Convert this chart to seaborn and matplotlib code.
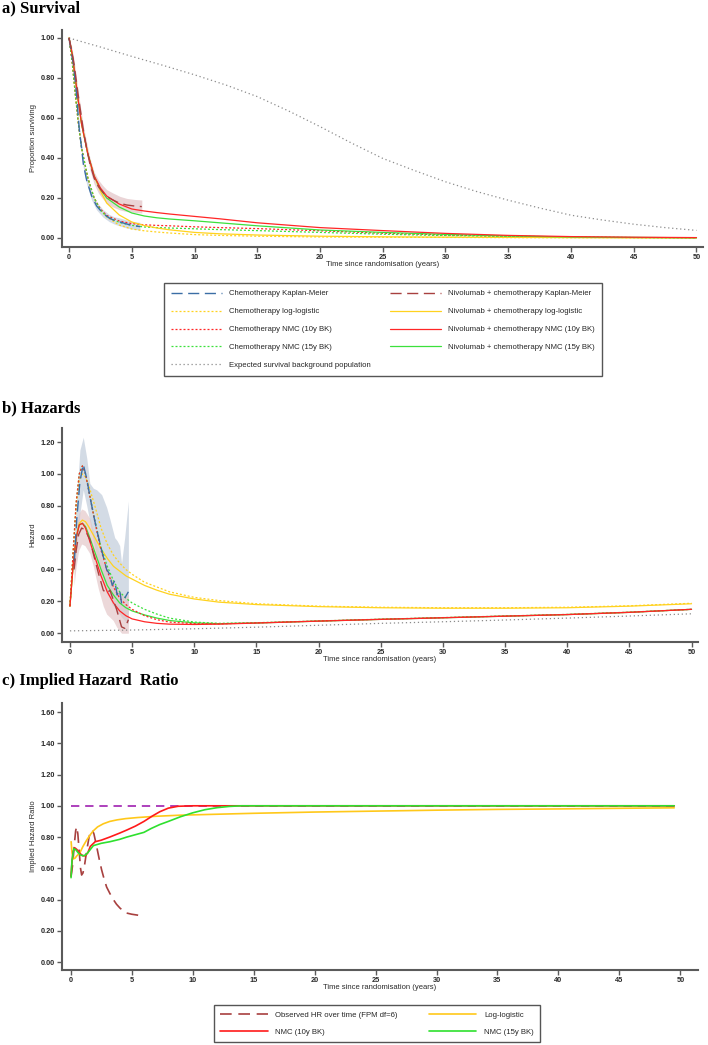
import matplotlib
matplotlib.use("Agg")
import matplotlib.pyplot as plt
import numpy as np
import pandas as pd
import seaborn as sns

# ---------------- DATA ----------------
# a) Survival
km_chemo_t = [0, 0.15, 0.35, 0.5, 0.61, 0.72, 0.82, 1.0, 1.14, 1.4, 1.8, 2.2, 2.7, 3.2, 3.6, 4.06, 4.6, 5.1, 5.66]
km_chemo_s = [1.0, 0.94, 0.87, 0.78, 0.71, 0.62, 0.54, 0.45, 0.37, 0.29, 0.21, 0.16, 0.124, 0.10, 0.088, 0.08, 0.07, 0.062, 0.057]
km_chemo_lo = [1.0, 0.92, 0.85, 0.76, 0.69, 0.60, 0.52, 0.43, 0.35, 0.27, 0.19, 0.14, 0.105, 0.082, 0.07, 0.06, 0.05, 0.044, 0.04]
km_chemo_hi = [1.0, 0.96, 0.89, 0.80, 0.73, 0.64, 0.56, 0.47, 0.39, 0.31, 0.23, 0.18, 0.143, 0.118, 0.106, 0.10, 0.09, 0.082, 0.078]
km_nivo_t = [0, 0.2, 0.4, 0.55, 0.74, 0.95, 1.14, 1.4, 1.67, 2.0, 2.34, 2.7, 3.0, 3.5, 4.06, 4.6, 5.2, 5.8]
km_nivo_s = [1.0, 0.94, 0.87, 0.80, 0.71, 0.62, 0.54, 0.45, 0.37, 0.30, 0.257, 0.228, 0.207, 0.19, 0.173, 0.165, 0.16, 0.157]
km_nivo_lo = [1.0, 0.92, 0.85, 0.78, 0.69, 0.60, 0.52, 0.42, 0.34, 0.27, 0.225, 0.195, 0.172, 0.155, 0.14, 0.132, 0.128, 0.125]
km_nivo_hi = [1.0, 0.96, 0.89, 0.82, 0.73, 0.64, 0.56, 0.48, 0.40, 0.33, 0.29, 0.262, 0.242, 0.225, 0.208, 0.198, 0.193, 0.19]

surv_t = [0, 0.25, 0.5, 0.75, 1, 1.5, 2, 2.5, 3, 4, 5, 6, 7, 8, 10, 12, 15, 20, 25, 30, 35, 40, 45, 50]
chemo_ll_s = [1.0, 0.88, 0.72, 0.57, 0.45, 0.30, 0.20, 0.14, 0.105, 0.065, 0.045, 0.036, 0.03, 0.025, 0.017, 0.013, 0.009, 0.005, 0.004, 0.003, 0.002, 0.0015, 0.001, 0.001]
chemo_nmc10_s = [1.0, 0.88, 0.72, 0.57, 0.45, 0.30, 0.20, 0.145, 0.113, 0.085, 0.072, 0.066, 0.063, 0.061, 0.056, 0.052, 0.047, 0.036, 0.024, 0.015, 0.009, 0.005, 0.002, 0.001]
chemo_nmc15_s = [1.0, 0.88, 0.72, 0.57, 0.45, 0.30, 0.20, 0.14, 0.108, 0.078, 0.063, 0.055, 0.052, 0.05, 0.046, 0.042, 0.037, 0.028, 0.019, 0.012, 0.007, 0.003, 0.002, 0.001]
nivo_ll_s = [1.0, 0.92, 0.80, 0.68, 0.57, 0.42, 0.31, 0.235, 0.175, 0.115, 0.08, 0.062, 0.05, 0.041, 0.028, 0.021, 0.015, 0.009, 0.006, 0.004, 0.003, 0.002, 0.0015, 0.001]
nivo_nmc10_s = [1.0, 0.92, 0.80, 0.68, 0.57, 0.42, 0.31, 0.25, 0.21, 0.17, 0.145, 0.135, 0.127, 0.12, 0.108, 0.096, 0.076, 0.052, 0.037, 0.023, 0.013, 0.007, 0.004, 0.002]
nivo_nmc15_s = [1.0, 0.92, 0.80, 0.68, 0.57, 0.42, 0.31, 0.245, 0.2, 0.155, 0.125, 0.11, 0.101, 0.095, 0.086, 0.076, 0.061, 0.04, 0.028, 0.018, 0.01, 0.005, 0.003, 0.001]

bg_t = [0, 2.5, 5, 7.5, 10, 12.5, 15, 17.5, 20, 22.5, 25, 27.5, 30, 32.5, 35, 37.5, 40, 42.5, 45, 47.5, 50]
bg_s = [1.0, 0.955, 0.908, 0.863, 0.816, 0.765, 0.707, 0.635, 0.557, 0.475, 0.398, 0.338, 0.281, 0.232, 0.189, 0.15, 0.114, 0.09, 0.069, 0.052, 0.038]

# b) Hazards
hkm_chemo_t = [0.35, 0.55, 0.8, 1.07, 1.35, 1.6, 1.88, 2.15, 2.55, 2.95, 3.2, 3.4, 3.6, 3.8, 4.0, 4.15, 4.4, 4.7]
hkm_chemo_h = [0.45, 0.72, 0.95, 1.06, 0.97, 0.86, 0.75, 0.65, 0.52, 0.40, 0.37, 0.30, 0.33, 0.24, 0.27, 0.19, 0.22, 0.26]
hkm_chemo_lo = [0.35, 0.55, 0.75, 0.90, 0.80, 0.70, 0.58, 0.48, 0.35, 0.25, 0.22, 0.18, 0.16, 0.13, 0.12, 0.10, 0.08, 0.06]
hkm_chemo_hi = [0.59, 0.86, 1.15, 1.23, 1.10, 0.94, 0.91, 0.90, 0.87, 0.79, 0.72, 0.66, 0.60, 0.58, 0.55, 0.44, 0.60, 0.83]
hkm_nivo_t = [0.33, 0.5, 0.7, 0.94, 1.2, 1.6, 1.88, 2.28, 2.68, 2.95, 3.22, 3.48, 3.75, 4.15, 4.42, 4.7]
hkm_nivo_h = [0.40, 0.52, 0.62, 0.66, 0.65, 0.59, 0.50, 0.38, 0.27, 0.25, 0.27, 0.21, 0.15, 0.04, 0.03, 0.085]
hkm_nivo_lo = [0.30, 0.42, 0.52, 0.56, 0.55, 0.50, 0.42, 0.28, 0.17, 0.12, 0.10, 0.08, 0.04, 0.0, 0.0, 0.0]
hkm_nivo_hi = [0.52, 0.66, 0.75, 0.78, 0.77, 0.72, 0.64, 0.52, 0.44, 0.40, 0.37, 0.33, 0.29, 0.25, 0.22, 0.25]

haz_t = [0, 0.1, 0.25, 0.5, 0.75, 1.0, 1.25, 1.5, 2, 2.5, 3, 3.5, 4, 4.5, 5, 6, 7, 8, 10, 12, 15, 20, 25, 30, 35, 40, 45, 50]
chemo_ll_h = [0.17, 0.30, 0.50, 0.80, 0.96, 1.0, 0.98, 0.93, 0.80, 0.66, 0.56, 0.49, 0.44, 0.40, 0.37, 0.32, 0.29, 0.26, 0.225, 0.205, 0.185, 0.17, 0.163, 0.16, 0.16, 0.163, 0.172, 0.188]
chemo_nmc10_h = [0.17, 0.30, 0.50, 0.82, 1.0, 1.05, 1.0, 0.90, 0.70, 0.52, 0.39, 0.29, 0.22, 0.18, 0.15, 0.11, 0.085, 0.07, 0.06, 0.059, 0.065, 0.077, 0.088, 0.098, 0.108, 0.118, 0.132, 0.15]
chemo_nmc15_h = [0.17, 0.30, 0.50, 0.82, 1.0, 1.05, 1.0, 0.90, 0.71, 0.54, 0.42, 0.33, 0.26, 0.22, 0.19, 0.15, 0.12, 0.095, 0.07, 0.062, 0.066, 0.077, 0.088, 0.098, 0.108, 0.118, 0.132, 0.15]
nivo_ll_h = [0.17, 0.27, 0.42, 0.60, 0.69, 0.71, 0.70, 0.67, 0.60, 0.53, 0.47, 0.42, 0.39, 0.36, 0.34, 0.30, 0.27, 0.245, 0.215, 0.195, 0.18, 0.167, 0.16, 0.157, 0.157, 0.16, 0.17, 0.185]
nivo_nmc10_h = [0.17, 0.27, 0.42, 0.60, 0.68, 0.69, 0.66, 0.60, 0.48, 0.36, 0.26, 0.19, 0.14, 0.11, 0.09, 0.072, 0.062, 0.057, 0.055, 0.057, 0.064, 0.076, 0.087, 0.097, 0.107, 0.117, 0.131, 0.15]
nivo_nmc15_h = [0.17, 0.27, 0.42, 0.60, 0.68, 0.69, 0.67, 0.62, 0.51, 0.40, 0.30, 0.24, 0.19, 0.16, 0.14, 0.115, 0.095, 0.08, 0.065, 0.06, 0.064, 0.076, 0.087, 0.097, 0.107, 0.117, 0.131, 0.15]
bg_h_t = [0, 5, 10, 15, 20, 25, 30, 35, 40, 45, 50]
bg_h = [0.015, 0.02, 0.028, 0.038, 0.05, 0.062, 0.072, 0.083, 0.095, 0.108, 0.122]

# c) Implied hazard ratio
hr_obs_t = [0.02, 0.15, 0.3, 0.4, 0.48, 0.58, 0.7, 0.8, 0.89, 1.0, 1.15, 1.3, 1.5, 1.65, 1.77, 1.9, 2.12, 2.33, 2.53, 2.74, 2.94, 3.2, 3.49, 3.75, 4.04, 4.5, 5.0, 5.5, 5.95]
hr_obs = [0.546, 0.62, 0.76, 0.84, 0.866, 0.82, 0.70, 0.60, 0.557, 0.57, 0.63, 0.71, 0.80, 0.84, 0.845, 0.82, 0.74, 0.66, 0.59, 0.53, 0.48, 0.44, 0.40, 0.37, 0.345, 0.315, 0.306, 0.30, 0.293]
hr_ll_t = [0.03, 0.1, 0.2, 0.35, 0.5, 0.75, 1.0, 1.3, 1.6, 1.85, 2.2, 2.67, 3.2, 3.8, 4.5, 5.5, 7, 9, 12, 15, 20, 25, 30, 35, 40, 45, 49.5]
hr_ll = [0.77, 0.70, 0.66, 0.665, 0.68, 0.70, 0.74, 0.78, 0.815, 0.84, 0.865, 0.885, 0.90, 0.91, 0.918, 0.925, 0.933, 0.94, 0.946, 0.952, 0.96, 0.966, 0.972, 0.977, 0.98, 0.984, 0.987]
hr_nmc10_t = [0.02, 0.1, 0.2, 0.35, 0.5, 0.75, 1.0, 1.2, 1.4, 1.6, 2.0, 2.5, 3.2, 4.0, 4.6, 5.3, 6.0, 6.7, 7.3, 8.0, 8.8, 10, 15, 20, 30, 40, 49.5]
hr_nmc10 = [0.55, 0.64, 0.71, 0.73, 0.72, 0.695, 0.68, 0.68, 0.70, 0.74, 0.77, 0.78, 0.80, 0.825, 0.845, 0.87, 0.90, 0.935, 0.962, 0.985, 0.997, 1.0, 1.0, 1.0, 1.0, 1.0, 1.0]
hr_nmc15_t = [0.02, 0.1, 0.25, 0.4, 0.6, 0.8, 1.0, 1.2, 1.4, 1.85, 2.5, 3.2, 4.0, 4.6, 5.3, 6.0, 6.6, 7.3, 8.0, 9.0, 10, 11, 12, 13, 14, 20, 30, 40, 49.5]
hr_nmc15 = [0.54, 0.65, 0.725, 0.72, 0.70, 0.685, 0.68, 0.685, 0.70, 0.745, 0.76, 0.77, 0.785, 0.80, 0.815, 0.83, 0.855, 0.88, 0.90, 0.93, 0.955, 0.975, 0.988, 0.996, 1.0, 1.0, 1.0, 1.0, 1.0]
ref_t = [0, 50]
ref_hr = [1.0, 1.0]

x_ticks = [0, 5, 10, 15, 20, 25, 30, 35, 40, 45, 50]
surv_yticks = [0.0, 0.2, 0.4, 0.6, 0.8, 1.0]
haz_yticks = [0.0, 0.2, 0.4, 0.6, 0.8, 1.0, 1.2]
hr_yticks = [0.0, 0.2, 0.4, 0.6, 0.8, 1.0, 1.2, 1.4, 1.6]

legend_a_labels = ["Chemotherapy Kaplan-Meier", "Chemotherapy log-logistic", "Chemotherapy NMC (10y BK)",
                   "Chemotherapy NMC (15y BK)", "Expected survival background population",
                   "Nivolumab + chemotherapy Kaplan-Meier", "Nivolumab + chemotherapy log-logistic",
                   "Nivolumab + chemotherapy NMC (10y BK)", "Nivolumab + chemotherapy NMC (15y BK)"]
legend_c_labels = ["Observed HR over time (FPM df=6)", "NMC (10y BK)", "Log-logistic", "NMC (15y BK)"]

# ---------------- STYLE ----------------
sns.set_theme(style="white")
plt.rcParams['font.family'] = ['Liberation Sans', 'DejaVu Sans']

C_BLUE = "#3B6EA5"
C_BROWN = "#A8403F"
C_YEL = "#FFD21F"
C_RED = "#FF2626"
C_GRN = "#3CE03C"
C_GREY = "#8C8C8C"
C_PURP = "#A020B0"
C_AX = "#5A5A5A"
C_TXT = "#2A2A2A"

KM_LS = (0, (8, 4))
DOT_LS = (0, (1.6, 1.6))
BG_LS = (0, (1, 2.2))

W, H = 708, 1045
fig = plt.figure(figsize=(W / 100, H / 100), dpi=100)


def add_axes(l, r, t, b):
    return fig.add_axes([l / W, 1 - b / H, (r - l) / W, (b - t) / H])


def line(ax, x, y, color, ls, lw):
    sns.lineplot(x=x, y=y, ax=ax, color=color, linestyle=ls, linewidth=lw,
                 estimator=None, sort=False, legend=False)
    return ax.lines[-1]


def style(ax, xlim, ylim, yticks, ylabel):
    ax.set_xlim(*xlim)
    ax.set_ylim(*ylim)
    ax.set_xticks(x_ticks)
    ax.set_xticklabels([str(v) for v in x_ticks])
    ax.set_yticks(yticks)
    ax.set_yticklabels([f"{v:.2f}" for v in yticks])
    for s in ["top", "right"]:
        ax.spines[s].set_visible(False)
    for s in ["left", "bottom"]:
        ax.spines[s].set_color(C_AX)
        ax.spines[s].set_linewidth(1.5)
    ax.tick_params(axis="both", direction="out", length=3.5, width=1.0, color=C_AX,
                   labelsize=5.3, pad=1.5, labelcolor=C_TXT)
    for lab in ax.get_xticklabels() + ax.get_yticklabels():
        lab.set_fontweight("bold")
    ax.tick_params(axis="x", bottom=True)
    ax.tick_params(axis="y", left=True)
    ax.set_xlabel("Time since randomisation (years)", fontsize=5.5, labelpad=0, color=C_TXT)
    ax.set_ylabel(ylabel, fontsize=5.5, labelpad=3, color=C_TXT)
    ax.grid(False)
    ax.set_facecolor("white")


# ---------------- a) Survival ----------------
ax_a = add_axes(62, 703, 30, 247)
ax_a.fill_between(km_chemo_t, km_chemo_lo, km_chemo_hi, color="#B7C5D8", alpha=0.6, lw=0)
ax_a.fill_between(km_nivo_t, km_nivo_lo, km_nivo_hi, color="#DDB8BC", alpha=0.6, lw=0)
h_bg = line(ax_a, bg_t, bg_s, C_GREY, BG_LS, 0.9)
h_cll = line(ax_a, surv_t, chemo_ll_s, C_YEL, DOT_LS, 0.9)
h_c10 = line(ax_a, surv_t, chemo_nmc10_s, C_RED, DOT_LS, 0.9)
h_c15 = line(ax_a, surv_t, chemo_nmc15_s, C_GRN, DOT_LS, 0.9)
h_nll = line(ax_a, surv_t, nivo_ll_s, C_YEL, "-", 0.9)
h_n15 = line(ax_a, surv_t, nivo_nmc15_s, C_GRN, "-", 0.9)
h_n10 = line(ax_a, surv_t, nivo_nmc10_s, C_RED, "-", 0.9)
h_ckm = line(ax_a, km_chemo_t, km_chemo_s, C_BLUE, KM_LS, 1.0)
h_nkm = line(ax_a, km_nivo_t, km_nivo_s, C_BROWN, KM_LS, 1.0)
style(ax_a, (-0.56, 50.52), (-0.045, 1.04), surv_yticks, "Proportion surviving")

fig.legend([h_ckm, h_cll, h_c10, h_c15, h_bg, h_nkm, h_nll, h_n10, h_n15], legend_a_labels,
           loc="upper center", bbox_to_anchor=(383 / W, 1 - 279 / H), ncol=2,
           fontsize=5.6, handlelength=6.6, handletextpad=0.9, labelspacing=1.35,
           columnspacing=2.4, borderpad=0.9, frameon=True, fancybox=False,
           edgecolor="#555555", framealpha=1)

# ---------------- b) Hazards ----------------
ax_b = add_axes(62, 698, 428, 642)
ax_b.fill_between(hkm_chemo_t, hkm_chemo_lo, hkm_chemo_hi, color="#BCC8D8", alpha=0.65, lw=0)
ax_b.fill_between(hkm_nivo_t, hkm_nivo_lo, hkm_nivo_hi, color="#E2C4C6", alpha=0.65, lw=0)
line(ax_b, bg_h_t, bg_h, C_GREY, BG_LS, 0.9)
line(ax_b, haz_t, chemo_ll_h, C_YEL, DOT_LS, 0.9)
line(ax_b, haz_t, nivo_ll_h, C_YEL, "-", 0.9)
line(ax_b, haz_t, chemo_nmc15_h, C_GRN, DOT_LS, 0.9)
line(ax_b, haz_t, nivo_nmc15_h, C_GRN, "-", 0.9)
line(ax_b, haz_t, chemo_nmc10_h, C_RED, DOT_LS, 0.9)
line(ax_b, haz_t, nivo_nmc10_h, C_RED, "-", 0.9)
line(ax_b, hkm_chemo_t, hkm_chemo_h, C_BLUE, KM_LS, 1.0)
line(ax_b, hkm_nivo_t, hkm_nivo_h, C_BROWN, KM_LS, 1.0)
style(ax_b, (-0.64, 50.52), (-0.055, 1.288), haz_yticks, "Hazard")

# ---------------- c) Implied Hazard Ratio ----------------
ax_c = add_axes(62, 698, 703, 970)
line(ax_c, ref_t, ref_hr, C_PURP, (0, (5, 3.5)), 1.2)
h_obs = line(ax_c, hr_obs_t, hr_obs, C_BROWN, (0, (7, 4)), 1.2)
h_ll = line(ax_c, hr_ll_t, hr_ll, "#FFC81A", "-", 1.2)
h_10 = line(ax_c, hr_nmc10_t, hr_nmc10, "#FF1A1A", "-", 1.2)
h_15 = line(ax_c, hr_nmc15_t, hr_nmc15, "#2EE02E", "-", 1.2)
style(ax_c, (-0.72, 51.45), (-0.051, 1.658), hr_yticks, "Implied Hazard Ratio")

fig.legend([h_obs, h_10, h_ll, h_15], legend_c_labels,
           loc="upper center", bbox_to_anchor=(377 / W, 1 - 1001 / H), ncol=2,
           fontsize=5.6, handlelength=6.1, handletextpad=1.0, labelspacing=1.3,
           columnspacing=4.0, borderpad=0.8, frameon=True, fancybox=False,
           edgecolor="#555555", framealpha=1)

# ---------------- Titles ----------------
tfont = dict(family=["Liberation Serif", "DejaVu Serif"], weight="bold", fontsize=12, color="black")
fig.text(2 / W, 1 - 8 / H, "a) Survival", ha="left", va="center", **tfont)
fig.text(2 / W, 1 - 408 / H, "b) Hazards", ha="left", va="center", **tfont)
fig.text(2 / W, 1 - 681 / H, "c) Implied Hazard  Ratio", ha="left", va="center", **tfont)

fig.savefig("out.png", dpi=100, facecolor="white")
